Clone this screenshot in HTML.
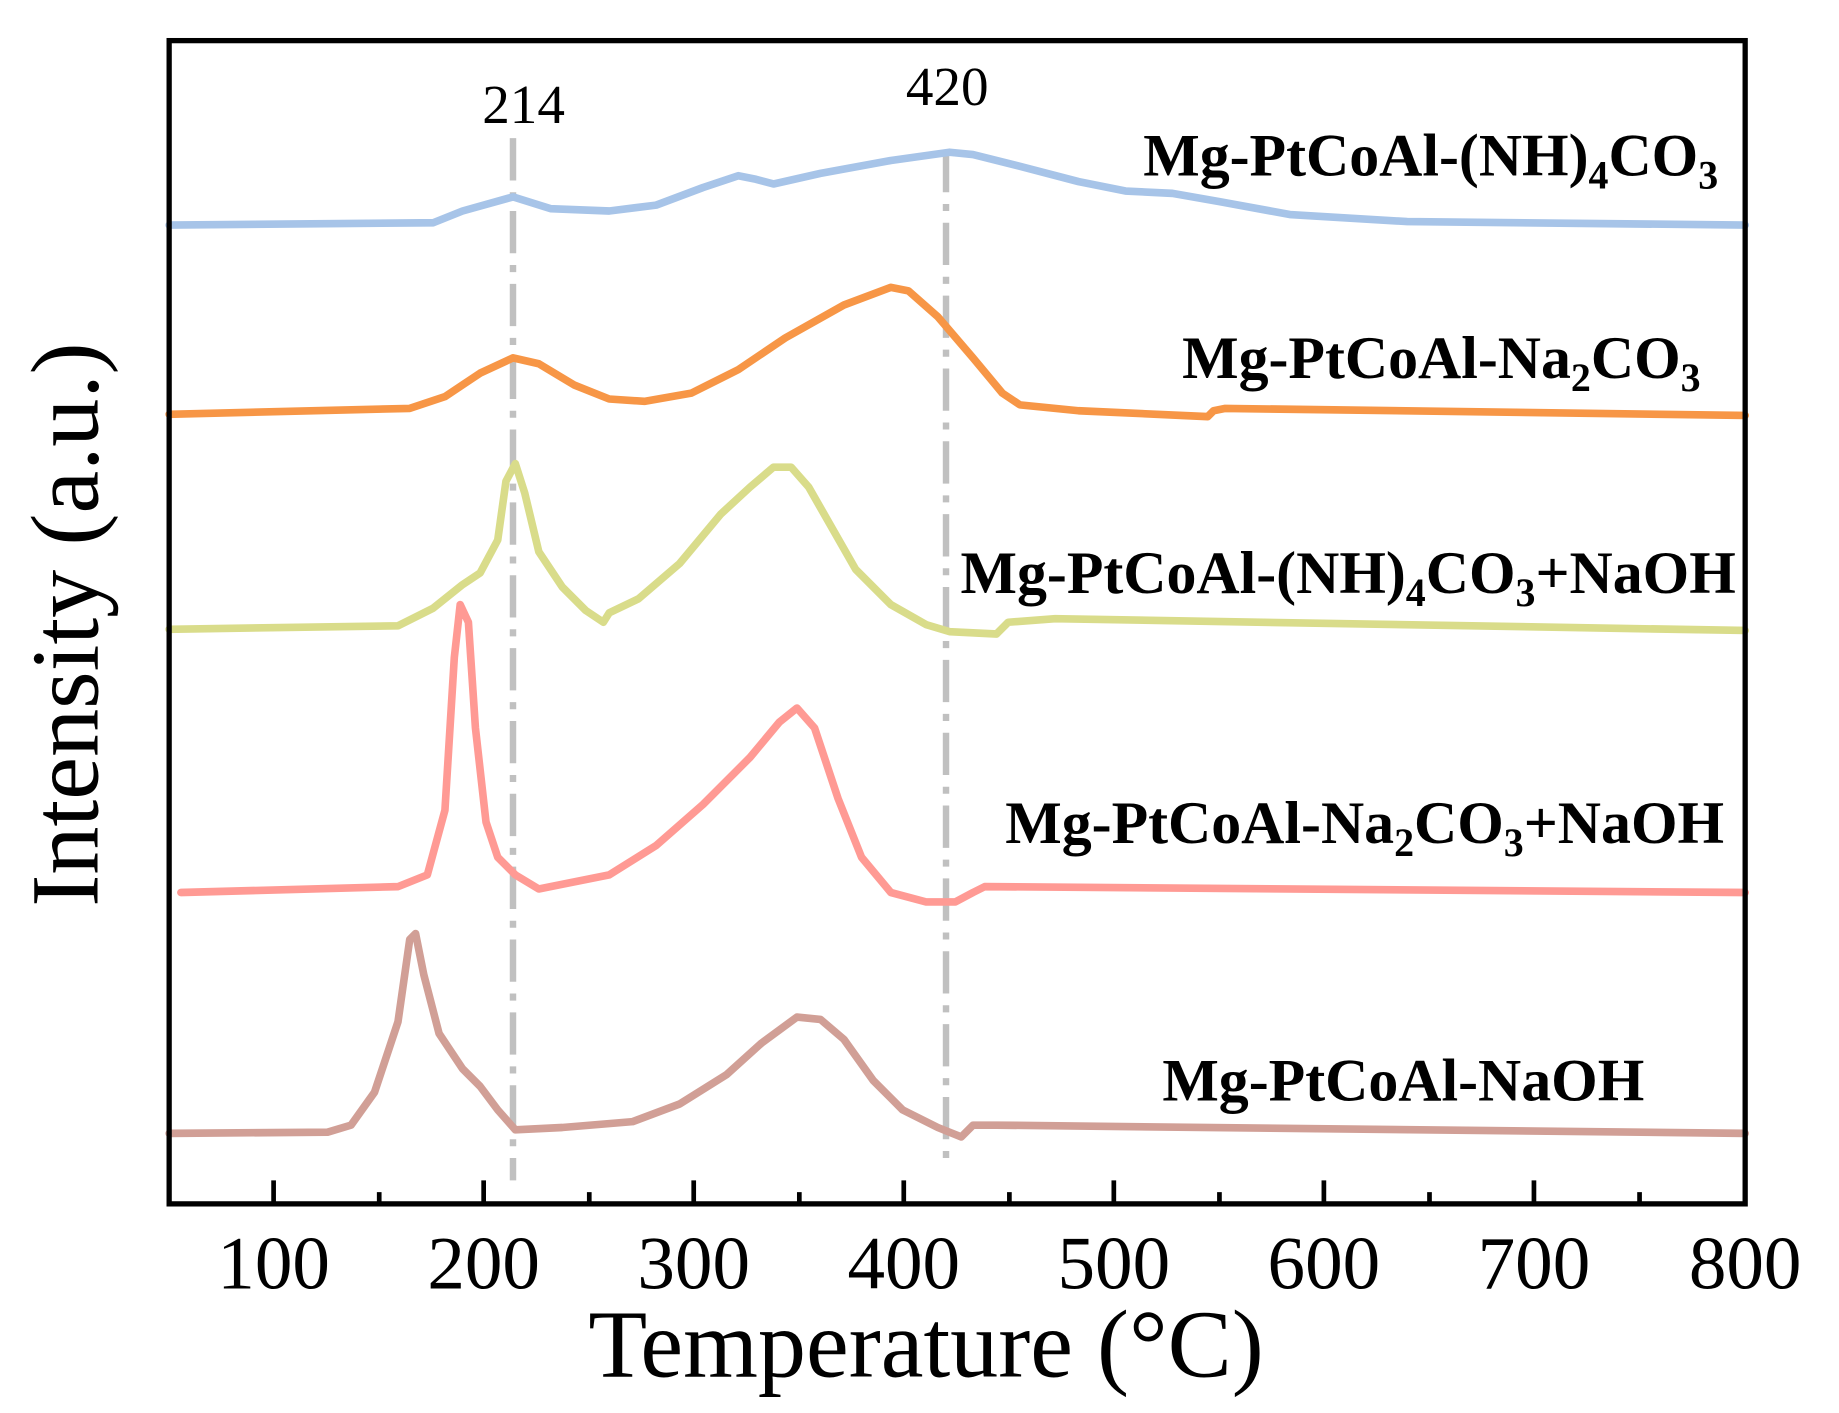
<!DOCTYPE html>
<html><head><meta charset="utf-8"><style>html,body{margin:0;padding:0;background:#fff}svg{display:block}</style></head>
<body>
<svg width="1839" height="1413" viewBox="0 0 1839 1413" xmlns="http://www.w3.org/2000/svg">
<g transform="matrix(1.1735,0,0,1.175,-1,-0.5)" font-family="'Liberation Serif',serif">
<g stroke="#c0c0c0" stroke-width="5.5" stroke-dasharray="36,10,6,10" fill="none">
<line x1="438" y1="118" x2="438" y2="1005"/>
<line x1="807" y1="128" x2="807" y2="995"/>
</g>
<text x="447" y="105" font-size="47" text-anchor="middle">214</text>
<text x="808" y="90" font-size="47" text-anchor="middle">420</text>
<g fill="none" stroke-width="6.5" stroke-linejoin="round" stroke-linecap="round">
<polyline stroke="#a7c4e8" points="145,192 370,190 395,180 438,168 470,178 520,180 560,175 600,160 630,150 645,153 660,157 700,148 760,137 810,130 830,132 870,142 920,155 960,163 1000,165 1040,172 1100,183 1200,189 1488,192"/>
<polyline stroke="#f79646" points="145,353 350,348 380,338 410,318 438,305 460,310 490,328 520,340 550,342 590,335 630,315 670,288 720,260 760,245 775,248 800,270 830,305 855,335 870,345 920,350 1030,355 1035,350 1045,348 1488,354"/>
<polyline stroke="#d9dc8a" points="145,536 340,533 370,518 395,498 410,488 425,460 432,410 440,395 448,420 460,470 480,500 500,520 515,530 520,522 545,510 580,480 615,438 640,415 660,398 675,398 690,415 710,450 730,485 760,515 790,532 810,538 850,540 860,530 900,527 1488,537"/>
<polyline stroke="#ff9a94" points="155,760 340,755 365,745 380,690 388,560 393,515 400,530 406,620 415,700 425,730 440,745 460,757 470,755 520,745 560,720 600,685 640,645 665,615 680,603 695,620 715,680 735,730 760,760 790,768 815,768 830,760 840,755 1488,760"/>
<polyline stroke="#d19f96" points="145,965 280,964 300,958 320,930 340,870 350,800 355,795 362,830 375,880 395,910 410,925 425,945 440,962 480,960 540,955 580,940 620,915 650,888 680,866 700,868 720,885 745,920 770,945 800,960 820,968 830,958 850,958 1488,965"/>
</g>
<g font-weight="bold" font-size="51" text-anchor="end">
<text x="1465" y="150">Mg-PtCoAl-(NH)<tspan font-size="34" dy="11">4</tspan><tspan dy="-11">CO</tspan><tspan font-size="34" dy="11">3</tspan></text>
<text x="1450" y="322">Mg-PtCoAl-Na<tspan font-size="34" dy="11">2</tspan><tspan dy="-11">CO</tspan><tspan font-size="34" dy="11">3</tspan></text>
<text x="1480" y="505">Mg-PtCoAl-(NH)<tspan font-size="34" dy="11">4</tspan><tspan dy="-11">CO</tspan><tspan font-size="34" dy="11">3</tspan><tspan dy="-11">+NaOH</tspan></text>
<text x="1470" y="718">Mg-PtCoAl-Na<tspan font-size="34" dy="11">2</tspan><tspan dy="-11">CO</tspan><tspan font-size="34" dy="11">3</tspan><tspan dy="-11">+NaOH</tspan></text>
<text x="1402" y="937">Mg-PtCoAl-NaOH</text>
</g>
<rect x="145" y="35" width="1343" height="990" fill="none" stroke="#000" stroke-width="4.5"/>
<g stroke="#000" stroke-width="4">
<line x1="234" y1="1025" x2="234" y2="1005"/><line x1="413" y1="1025" x2="413" y2="1005"/><line x1="592" y1="1025" x2="592" y2="1005"/><line x1="771" y1="1025" x2="771" y2="1005"/><line x1="950" y1="1025" x2="950" y2="1005"/><line x1="1129" y1="1025" x2="1129" y2="1005"/><line x1="1308" y1="1025" x2="1308" y2="1005"/>
<line x1="324" y1="1025" x2="324" y2="1015"/><line x1="503" y1="1025" x2="503" y2="1015"/><line x1="682" y1="1025" x2="682" y2="1015"/><line x1="861" y1="1025" x2="861" y2="1015"/><line x1="1040" y1="1025" x2="1040" y2="1015"/><line x1="1219" y1="1025" x2="1219" y2="1015"/><line x1="1398" y1="1025" x2="1398" y2="1015"/>
</g>
<g font-size="64" text-anchor="middle">
<text x="234" y="1097">100</text><text x="413" y="1097">200</text><text x="592" y="1097">300</text><text x="771" y="1097">400</text><text x="950" y="1097">500</text><text x="1129" y="1097">600</text><text x="1308" y="1097">700</text><text x="1488" y="1097">800</text>
</g>
<text x="790" y="1172" font-size="82" text-anchor="middle">Temperature (°C)</text>
<text transform="translate(84,532) rotate(-90)" font-size="82" text-anchor="middle">Intensity (a.u.)</text>
</g>
</svg>
</body></html>
